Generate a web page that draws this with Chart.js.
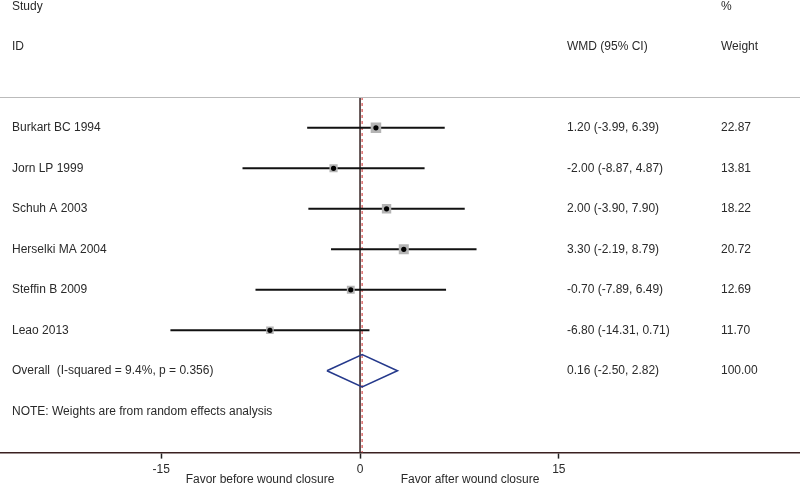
<!DOCTYPE html>
<html><head><meta charset="utf-8">
<script src="https://cdn.jsdelivr.net/npm/chart.js@4/dist/chart.umd.min.js"></script>
<style>html,body{margin:0;padding:0;background:#fff}#c{display:block}</style>
</head><body>
<canvas id="c" width="800" height="486"></canvas>
<script>
const studies = ["Burkart BC 1994","Jorn LP 1999","Schuh A 2003","Herselki MA 2004","Steffin B 2009","Leao 2013"];
const est = [1.20,-2.00,2.00,3.30,-0.70,-6.80];
const lower = [-3.99,-8.87,-3.90,-2.19,-7.89,-14.31];
const upper = [6.39,4.87,7.90,8.79,6.49,0.71];
const weights = [22.87,13.81,18.22,20.72,12.69,11.70];
const overall = {label:"Overall  (I-squared = 9.4%, p = 0.356)", est:0.16, lo:-2.50, hi:2.82, weight:100.00};
const xTicks = [-15,0,15];
const note = "NOTE: Weights are from random effects analysis";

const FAMILY = "'Liberation Sans', Arial, sans-serif";
const FONT = "12px " + FAMILY;
const yMin = 0.24, yMax = 9.02;
const datasets = [];
// reference lines
datasets.push({type:'line',data:[{x:0,y:yMin},{x:0,y:yMax}],borderColor:'#3d2b2b',borderWidth:1.6,pointRadius:0,order:5});
datasets.push({type:'line',data:[{x:overall.est,y:yMin},{x:overall.est,y:yMax}],borderColor:'#e07878',borderWidth:1.6,borderDash:[3,3],pointRadius:0,order:4});
// CIs
studies.forEach((s,i)=>{
  datasets.push({type:'line',data:[{x:lower[i],y:i+1},{x:upper[i],y:i+1}],borderColor:'#111',borderWidth:2,pointRadius:0,order:3});
});
// weight squares
datasets.push({type:'scatter',data:est.map((e,i)=>({x:e,y:i+1})),pointStyle:'rect',
  pointRadius:weights.map(w=>Math.sqrt(w)*2.2/Math.SQRT2),backgroundColor:'#b4b4b4',borderWidth:0,order:2});
// center dots
datasets.push({type:'scatter',data:est.map((e,i)=>({x:e,y:i+1})),pointStyle:'circle',pointRadius:2.6,backgroundColor:'#000',borderWidth:0,order:1});
// diamond
const dy = 0.40, oy = studies.length+1;
datasets.push({type:'line',data:[{x:overall.lo,y:oy},{x:overall.est,y:oy-dy},{x:overall.hi,y:oy},{x:overall.est,y:oy+dy},{x:overall.lo,y:oy}],
  borderColor:'#263a8c',borderWidth:1.6,pointRadius:0,order:0});

const textPlugin = {
  id:'txt',
  afterDraw(chart){
    const ctx = chart.ctx, ys = chart.scales.y;
    ctx.save();
    ctx.font = FONT; ctx.fillStyle = '#2a2a2a'; ctx.textBaseline = 'middle';
    ctx.textAlign = 'left';
    ctx.fillText("Study",12,7);
    ctx.fillText("ID",12,47);
    ctx.fillText("WMD (95% CI)",567,47);
    ctx.fillText("%",721,7);
    ctx.fillText("Weight",721,47);
    const f=v=>v.toFixed(2);
    studies.forEach((s,i)=>{
      const y = ys.getPixelForValue(i+1);
      ctx.fillText(s,12,y);
      ctx.fillText(`${f(est[i])} (${f(lower[i])}, ${f(upper[i])})`,567,y);
      ctx.fillText(f(weights[i]),721,y);
    });
    const oyp = ys.getPixelForValue(oy);
    ctx.fillText(overall.label,12,oyp);
    ctx.fillText(`${f(overall.est)} (${f(overall.lo)}, ${f(overall.hi)})`,567,oyp);
    ctx.fillText(f(overall.weight),721,oyp);
    ctx.fillText(note,12,ys.getPixelForValue(oy+1));
    // top separator
    ctx.strokeStyle='#bbb'; ctx.lineWidth=1.2;
    ctx.beginPath(); ctx.moveTo(0,chart.chartArea.top+0.5); ctx.lineTo(800,chart.chartArea.top+0.5); ctx.stroke();
    ctx.textAlign='center';
    ctx.fillText("Favor before wound closure",260,480);
    ctx.fillText("Favor after wound closure",470,480);
    ctx.restore();
  }
};

new Chart(document.getElementById('c'),{
  data:{datasets},
  options:{
    responsive:false,animation:false,
    layout:{autoPadding:false,padding:{top:97,left:0,right:0,bottom:5}},
    plugins:{legend:{display:false},tooltip:{enabled:false}},
    scales:{
      x:{type:'linear',min:-27.17,max:33.2,
        afterBuildTicks:(s)=>{s.ticks=xTicks.map(v=>({value:v}));},
        grid:{drawOnChartArea:false,drawTicks:true,tickLength:6,color:'#222',tickWidth:1.5},
        border:{display:true,color:'#3a2020',width:1.5},
        ticks:{color:'#2a2a2a',font:{family:FAMILY,size:12},padding:4,maxRotation:0,autoSkip:false}},
      y:{type:'linear',display:false,reverse:true,min:yMin,max:yMax,
        afterDataLimits:(s)=>{s.min=yMin;s.max=yMax;}}
    }
  },
  plugins:[textPlugin]
});
</script>
</body></html>
